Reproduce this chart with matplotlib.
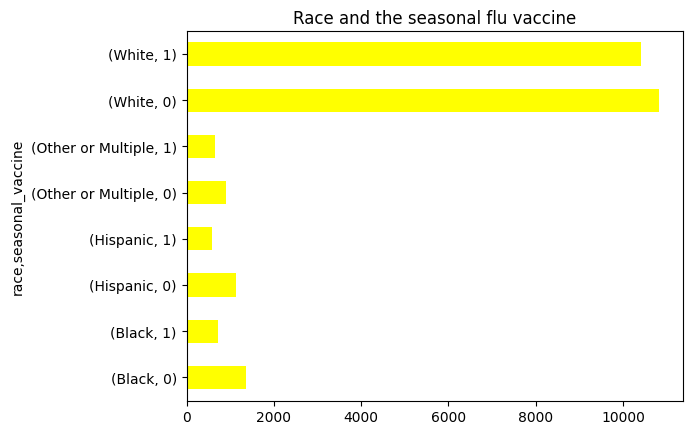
import pandas as pd
import matplotlib
matplotlib.use('Agg')
import matplotlib.pyplot as plt

races = ['Black', 'Black', 'Hispanic', 'Hispanic', 'Other or Multiple', 'Other or Multiple', 'White', 'White']
vaccine = [0, 1, 0, 1, 0, 1, 0, 1]
counts = [1365, 722, 1135, 585, 900, 654, 10820, 10420]

idx = pd.MultiIndex.from_arrays([races, vaccine], names=['race', 'seasonal_vaccine'])
dane = pd.Series(counts, index=idx)

fig = plt.figure(figsize=(6.91, 4.35), dpi=100)
ax = fig.add_axes([186.5 / 691, 33.5 / 435, 496 / 691, 369.6 / 435])
dane.plot(kind='barh', color='yellow', ax=ax)
ax.set_title('Race and the seasonal flu vaccine')
fig.savefig('out.png', dpi=100)
